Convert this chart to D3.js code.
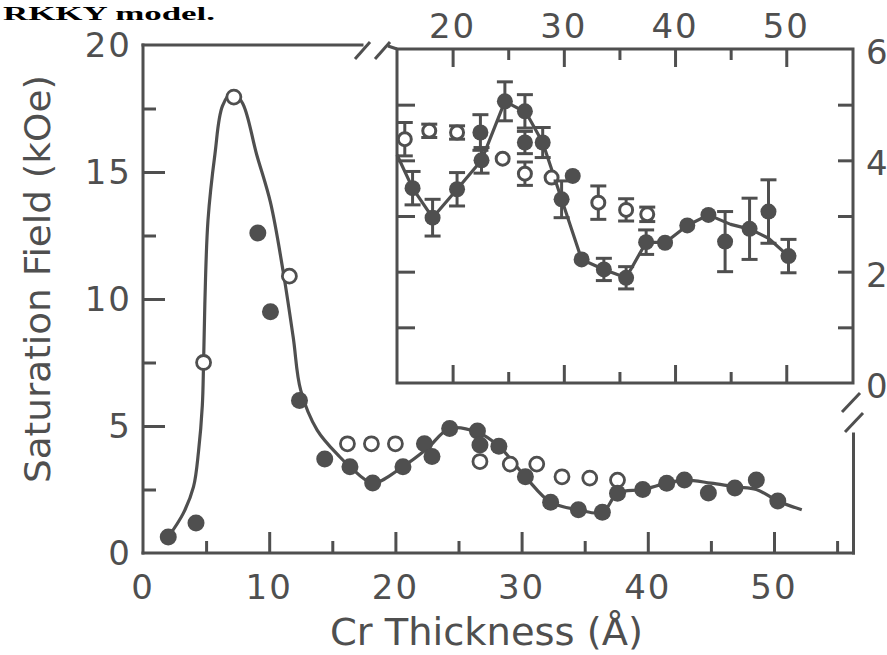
<!DOCTYPE html>
<html>
<head>
<meta charset="utf-8">
<script src="https://cdn.jsdelivr.net/npm/d3@7"></script>
<style>
html,body{margin:0;padding:0;background:#fff;}
svg{display:block;}
text{font-family:"DejaVu Sans",sans-serif;fill:#4f4f4f;}
</style>
</head>
<body>
<svg id="chart" width="887" height="655"></svg>
<script>
// ---------------- DATA ----------------
// Main panel: filled circles
const mainFilledX = [2.0, 4.2, 9.1, 10.1, 12.4, 14.4, 16.4, 18.2, 20.6, 22.3, 22.9, 24.3, 26.5, 26.7, 28.2, 30.3, 32.3, 34.5, 36.4, 37.6, 39.6, 41.5, 42.9, 44.8, 46.9, 48.6, 50.3];
const mainFilledY = [0.63, 1.18, 12.6, 9.5, 6.0, 3.7, 3.4, 2.76, 3.4, 4.3, 3.8, 4.9, 4.8, 4.25, 4.2, 3.0, 2.0, 1.7, 1.6, 2.35, 2.5, 2.75, 2.87, 2.36, 2.56, 2.87, 2.05];
// Main panel: open circles
const mainOpenX = [4.8, 7.2, 11.6, 16.2, 18.1, 20.0, 26.7, 29.1, 31.2, 33.2, 35.4, 37.6];
const mainOpenY = [7.5, 17.95, 10.9, 4.3, 4.3, 4.3, 3.6, 3.5, 3.5, 3.0, 2.95, 2.87];
// Main panel: guide curve
const mainCurveX = [2.0, 3.2, 4.0, 4.4, 4.7, 4.8, 4.9, 5.15, 5.7, 6.3, 7.1, 7.9, 9.0, 10.1, 11.1, 11.9, 12.5, 13.8, 15.6, 16.4, 18.2, 20.6, 22.5, 24.3, 26.5, 28.2, 30.3, 32.3, 34.5, 36.4, 37.6, 39.6, 41.5, 43.0, 45.0, 47.0, 48.6, 50.3, 52.2];
const mainCurveY = [0.63, 1.57, 2.6, 4.0, 5.8, 7.5, 9.8, 13.1, 15.7, 17.6, 18.15, 17.7, 15.7, 13.8, 11.1, 8.5, 6.4, 4.84, 3.78, 3.4, 2.76, 3.4, 4.1, 4.9, 4.75, 4.2, 3.0, 2.0, 1.7, 1.6, 2.35, 2.5, 2.75, 2.87, 2.75, 2.6, 2.5, 2.05, 1.7];
const mainXTicksMajor = [10, 20, 30, 40, 50];
const mainXTicksMinor = [5, 15, 25, 35, 45, 55];
const mainXLabels = [0, 10, 20, 30, 40, 50];
const mainYTicksMajor = [5, 10, 15];
const mainYTicksMinor = [2.5, 7.5, 12.5, 17.5];
const mainYLabels = [0, 5, 10, 15, 20];

// Inset: filled circles with error bars
const insetFilledX = [16.4, 18.2, 20.4, 22.5, 22.6, 24.7, 26.5, 26.5, 28.1, 29.8, 30.8, 31.6, 33.6, 35.6, 37.4, 39.1, 41.1, 43.0, 44.5, 46.7, 48.4, 50.2];
const insetFilledY = [3.5, 2.97, 3.48, 4.5, 4.0, 5.06, 4.88, 4.32, 4.32, 3.3, 3.72, 2.22, 2.04, 1.89, 2.53, 2.52, 2.83, 3.02, 2.54, 2.77, 3.08, 2.28];
const insetFilledErr = [0.3, 0.33, 0.3, 0.32, 0.23, 0.35, 0.3, 0.2, 0.27, 0.33, 0, 0, 0.2, 0.2, 0.22, 0, 0, 0, 0.54, 0.55, 0.57, 0.3];
// Inset: open circles with error bars
const insetOpenX = [15.7, 17.9, 20.4, 24.5, 26.5, 28.9, 33.1, 35.6, 37.5];
const insetOpenY = [4.38, 4.53, 4.5, 4.03, 3.76, 3.69, 3.24, 3.11, 3.03];
const insetOpenErr = [0.3, 0.12, 0.12, 0, 0.21, 0, 0.3, 0.2, 0.13];
// Inset: guide line
const insetLineX = [15.0, 16.4, 18.2, 20.4, 22.6, 24.7, 26.6, 28.1, 29.8, 31.6, 33.6, 35.6, 37.4, 39.1, 41.1, 43.0, 45.0, 46.8, 48.4, 50.2];
const insetLineY = [4.1, 3.5, 2.97, 3.48, 4.0, 5.06, 4.86, 4.32, 3.3, 2.22, 2.04, 1.89, 2.53, 2.52, 2.83, 3.02, 2.85, 2.76, 2.6, 2.28];
const insetXTicksMajor = [20, 30, 40, 50];
const insetXTicksMinor = [25, 35, 45];
const insetXLabels = [20, 30, 40, 50];
const insetYTicks = [1, 2, 3, 4, 5];
const insetYLabels = [0, 2, 4, 6];

const xTitle = "Cr Thickness (Å)";
const yTitle = "Saturation Field (kOe)";
const captionText = "RKKY model.";

// ---------------- DRAW ----------------
const INK = "#4f4f4f";
const svg = d3.select("#chart");

// caption fragment at top
svg.append("text").attr("x", 3).attr("y", 20).attr("textLength", 212).attr("lengthAdjust", "spacingAndGlyphs")
  .style("font-family", "'Liberation Serif',serif").style("font-weight", "bold")
  .style("font-size", "18px").style("fill", "#000").text(captionText);

// Main scales
const xMain = d3.scaleLinear().domain([0, 50]).range([143, 774]);
const yMain = d3.scaleLinear().domain([0, 20]).range([553, 45]);
const gMain = svg.append("g");

// Main frame
const mainLeft = xMain(0), mainRight = xMain(56.3), mainBottom = yMain(0), mainTop = yMain(20);
const frameLine = (x1, y1, x2, y2) => gMain.append("line").attr("x1", x1).attr("y1", y1).attr("x2", x2).attr("y2", y2)
  .attr("stroke", INK).attr("stroke-width", 3).attr("stroke-linecap", "square");
frameLine(mainLeft, mainTop, mainLeft, mainBottom);
frameLine(mainLeft, mainBottom, mainRight, mainBottom);
frameLine(mainLeft, mainTop, 362, mainTop);
frameLine(mainRight, 434, mainRight, mainBottom);
// break marks
const slash = (x1, y1, x2, y2) => svg.append("line").attr("x1", x1).attr("y1", y1).attr("x2", x2).attr("y2", y2)
  .attr("stroke", INK).attr("stroke-width", 3);
slash(355, 59, 370, 42); slash(375, 59, 390, 42);
slash(842, 412, 860, 393); slash(845, 432, 863, 413);

// Main ticks via axes
function styleAxis(g) { g.select(".domain").remove(); g.selectAll("line").attr("stroke", INK).attr("stroke-width", 3); g.selectAll("text").remove(); }
gMain.append("g").attr("transform", `translate(0,${mainBottom})`)
  .call(d3.axisBottom(xMain).tickValues(mainXTicksMajor).tickSize(-21)).call(styleAxis);
gMain.append("g").attr("transform", `translate(0,${mainBottom})`)
  .call(d3.axisBottom(xMain).tickValues(mainXTicksMinor).tickSize(-12)).call(styleAxis);
gMain.append("g").attr("transform", `translate(${mainLeft},0)`)
  .call(d3.axisLeft(yMain).tickValues(mainYTicksMajor).tickSize(-22)).call(styleAxis);
gMain.append("g").attr("transform", `translate(${mainLeft},0)`)
  .call(d3.axisLeft(yMain).tickValues(mainYTicksMinor).tickSize(-13)).call(styleAxis);

// Main tick labels
gMain.selectAll(".xl").data(mainXLabels).join("text")
  .attr("x", d => xMain(d)).attr("y", 599).attr("text-anchor", "middle")
  .style("font-size", "34px").style("letter-spacing", "2px").text(d => d);
gMain.selectAll(".yl").data(mainYLabels).join("text")
  .attr("x", 132).attr("y", d => yMain(d) + 12).attr("text-anchor", "end")
  .style("font-size", "34px").style("letter-spacing", "2px").text(d => d);

// Axis titles
svg.append("text").attr("x", 330).attr("y", 645).attr("textLength", 313).attr("lengthAdjust", "spacingAndGlyphs")
  .style("font-size", "37px").text(xTitle);
svg.append("text").attr("transform", "translate(50,483) rotate(-90)").attr("textLength", 408).attr("lengthAdjust", "spacingAndGlyphs")
  .style("font-size", "36px").text(yTitle);

// Main curve
const mainCurve = mainCurveX.map((x, i) => [x, mainCurveY[i]]);
gMain.append("path").datum(mainCurve)
  .attr("d", d3.line().x(d => xMain(d[0])).y(d => yMain(d[1])).curve(d3.curveCatmullRom.alpha(0.5)))
  .attr("fill", "none").attr("stroke", INK).attr("stroke-width", 3.2);

// Main markers
gMain.selectAll(".mo").data(mainOpenX.map((x, i) => [x, mainOpenY[i]])).join("circle")
  .attr("cx", d => xMain(d[0])).attr("cy", d => yMain(d[1])).attr("r", 7)
  .attr("fill", "#fff").attr("stroke", INK).attr("stroke-width", 2.8);
gMain.selectAll(".mf").data(mainFilledX.map((x, i) => [x, mainFilledY[i]])).join("circle")
  .attr("cx", d => xMain(d[0])).attr("cy", d => yMain(d[1])).attr("r", 8.5)
  .attr("fill", INK);

// ---------------- INSET ----------------
const xIn = d3.scaleLinear().domain([15, 56]).range([397, 853]);
const yIn = d3.scaleLinear().domain([0, 6]).range([383, 49]);
const gIn = svg.append("g");
const inL = xIn(15), inR = xIn(56), inT = yIn(6), inB = yIn(0);
gIn.append("rect").attr("x", inL).attr("y", inT).attr("width", inR - inL).attr("height", inB - inT).attr("fill", "#fff")
  .attr("stroke", INK).attr("stroke-width", 3);
gIn.append("line").attr("x1", 388).attr("y1", 46).attr("x2", inL).attr("y2", inT).attr("stroke", INK).attr("stroke-width", 3);

gIn.append("g").attr("transform", `translate(0,${inB})`).call(d3.axisBottom(xIn).tickValues(insetXTicksMajor).tickSize(-18)).call(styleAxis);
gIn.append("g").attr("transform", `translate(0,${inB})`).call(d3.axisBottom(xIn).tickValues(insetXTicksMinor).tickSize(-11)).call(styleAxis);
gIn.append("g").attr("transform", `translate(0,${inT})`).call(d3.axisTop(xIn).tickValues(insetXTicksMajor).tickSize(-18)).call(styleAxis);
gIn.append("g").attr("transform", `translate(0,${inT})`).call(d3.axisTop(xIn).tickValues(insetXTicksMinor).tickSize(-11)).call(styleAxis);
gIn.append("g").attr("transform", `translate(${inL},0)`).call(d3.axisLeft(yIn).tickValues(insetYTicks).tickSize(-18)).call(styleAxis);
gIn.append("g").attr("transform", `translate(${inR},0)`).call(d3.axisRight(yIn).tickValues(insetYTicks).tickSize(-15)).call(styleAxis);

gIn.selectAll(".ixl").data(insetXLabels).join("text")
  .attr("x", d => xIn(d)).attr("y", 38).attr("text-anchor", "middle")
  .style("font-size", "34px").style("letter-spacing", "2px").text(d => d);
gIn.selectAll(".iyl").data(insetYLabels).join("text")
  .attr("x", 866).attr("y", d => yIn(d) + 15).attr("text-anchor", "start")
  .style("font-size", "34px").text(d => d);

// inset line
const inLine = insetLineX.map((x, i) => [x, insetLineY[i]]);
gIn.append("path").datum(inLine)
  .attr("d", d3.line().x(d => xIn(d[0])).y(d => yIn(d[1])))
  .attr("fill", "none").attr("stroke", INK).attr("stroke-width", 3.2).attr("stroke-linejoin", "round");

function errBars(g, xs, ys, es) {
  const data = xs.map((x, i) => ({ x, y: ys[i], e: es[i] })).filter(d => d.e > 0);
  const eg = g.append("g").attr("stroke", INK).attr("stroke-width", 3);
  eg.selectAll(".v").data(data).join("line")
    .attr("x1", d => xIn(d.x)).attr("x2", d => xIn(d.x)).attr("y1", d => yIn(d.y + d.e)).attr("y2", d => yIn(d.y - d.e));
  eg.selectAll(".t").data(data).join("line")
    .attr("x1", d => xIn(d.x) - 8).attr("x2", d => xIn(d.x) + 8).attr("y1", d => yIn(d.y + d.e)).attr("y2", d => yIn(d.y + d.e));
  eg.selectAll(".b").data(data).join("line")
    .attr("x1", d => xIn(d.x) - 8).attr("x2", d => xIn(d.x) + 8).attr("y1", d => yIn(d.y - d.e)).attr("y2", d => yIn(d.y - d.e));
}
errBars(gIn, insetOpenX, insetOpenY, insetOpenErr);
gIn.selectAll(".io").data(insetOpenX.map((x, i) => [x, insetOpenY[i]])).join("circle")
  .attr("cx", d => xIn(d[0])).attr("cy", d => yIn(d[1])).attr("r", 6.5)
  .attr("fill", "#fff").attr("stroke", INK).attr("stroke-width", 3);
errBars(gIn, insetFilledX, insetFilledY, insetFilledErr);
gIn.selectAll(".if").data(insetFilledX.map((x, i) => [x, insetFilledY[i]])).join("circle")
  .attr("cx", d => xIn(d[0])).attr("cy", d => yIn(d[1])).attr("r", 8)
  .attr("fill", INK);
</script>
</body>
</html>
